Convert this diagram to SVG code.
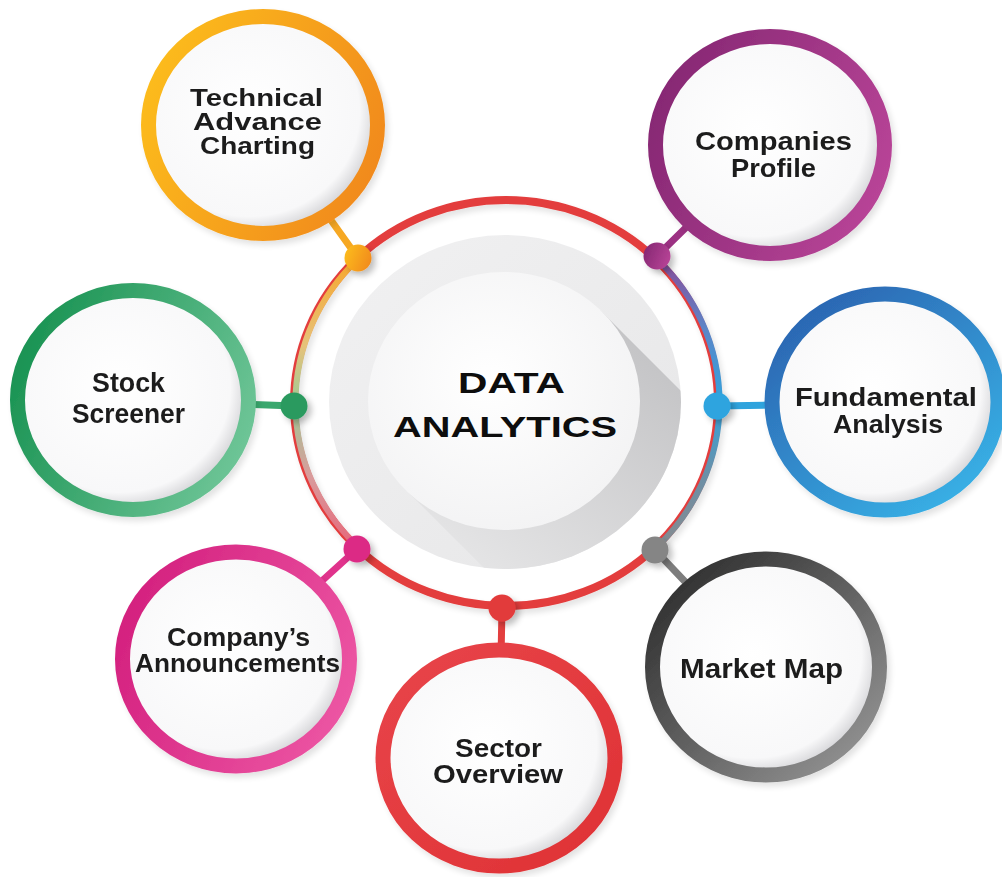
<svg xmlns="http://www.w3.org/2000/svg" width="1002" height="877" viewBox="0 0 1002 877">
<style>
.lbl{font-family:"Liberation Sans",Arial,sans-serif;font-weight:700;font-size:28px;fill:#1e1e1e;text-anchor:middle}
.f24{font-size:23.5px}
.f25{font-size:25.5px}
.ctr{font-family:"Liberation Sans",Arial,sans-serif;font-weight:700;font-size:30px;fill:#0d0d0d;text-anchor:middle}
.sat{fill:url(#satFill)}
.ring{fill:none;stroke-width:15}
.conn{stroke-width:7;stroke-linecap:round;fill:none}
</style>
<defs>
<filter id="sh" x="-30%" y="-30%" width="170%" height="170%">
<feGaussianBlur in="SourceAlpha" stdDeviation="3"/>
<feOffset dx="4" dy="4" result="o"/>
<feComponentTransfer><feFuncA type="linear" slope="0.25"/></feComponentTransfer>
<feMerge><feMergeNode/><feMergeNode in="SourceGraphic"/></feMerge>
</filter>
<filter id="shs" x="-10%" y="-10%" width="125%" height="125%">
<feGaussianBlur in="SourceAlpha" stdDeviation="3"/>
<feOffset dx="3" dy="4"/>
<feComponentTransfer><feFuncA type="linear" slope="0.12"/></feComponentTransfer>
<feMerge><feMergeNode/><feMergeNode in="SourceGraphic"/></feMerge>
</filter>
<radialGradient id="satFill" cx="0.44" cy="0.44" r="0.56">
<stop offset="0" stop-color="#ffffff"/>
<stop offset="0.86" stop-color="#f8f8f9"/>
<stop offset="1" stop-color="#d5d5d8"/>
</radialGradient>
<radialGradient id="whiteFill" cx="0.45" cy="0.42" r="0.6">
<stop offset="0" stop-color="#ffffff"/>
<stop offset="1" stop-color="#f3f3f4"/>
</radialGradient>
<linearGradient id="discFill" x1="0" y1="0" x2="1" y2="1">
<stop offset="0" stop-color="#f1f1f2"/>
<stop offset="1" stop-color="#e6e6e7"/>
</linearGradient>
<linearGradient id="longSh" gradientUnits="userSpaceOnUse" x1="640" y1="330" x2="470" y2="560">
<stop offset="0" stop-color="#c3c3c5"/>
<stop offset="1" stop-color="#e4e4e5"/>
</linearGradient>
<clipPath id="discClip"><ellipse cx="505" cy="402" rx="176" ry="167"/></clipPath>
<linearGradient id="gOrange" x1="0" y1="0.3" x2="1" y2="0.7">
<stop offset="0" stop-color="#fcbb1a"/><stop offset="1" stop-color="#f18a1f"/>
</linearGradient>
<linearGradient id="gPurple" x1="0" y1="0.3" x2="1" y2="0.7">
<stop offset="0" stop-color="#872874"/><stop offset="1" stop-color="#b84497"/>
</linearGradient>
<linearGradient id="gBlue" x1="0" y1="0" x2="0.8" y2="1">
<stop offset="0" stop-color="#2a5dac"/><stop offset="1" stop-color="#38b1e6"/>
</linearGradient>
<linearGradient id="gGray" x1="0" y1="0" x2="1" y2="1">
<stop offset="0" stop-color="#262626"/><stop offset="1" stop-color="#9b9b9b"/>
</linearGradient>
<linearGradient id="gRed" x1="0" y1="0" x2="1" y2="1">
<stop offset="0" stop-color="#e8454a"/><stop offset="1" stop-color="#df3134"/>
</linearGradient>
<linearGradient id="gPink" x1="0" y1="0.3" x2="1" y2="0.7">
<stop offset="0" stop-color="#d4217f"/><stop offset="1" stop-color="#ec55a3"/>
</linearGradient>
<linearGradient id="gGreen" x1="0" y1="0.3" x2="1" y2="0.7">
<stop offset="0" stop-color="#1a9353"/><stop offset="1" stop-color="#6ec597"/>
</linearGradient>
<linearGradient id="arcL" gradientUnits="userSpaceOnUse" x1="0" y1="258" x2="0" y2="550">
<stop offset="0" stop-color="#f6a62c"/>
<stop offset="0.3" stop-color="#e6c27a"/>
<stop offset="0.5" stop-color="#9fca95"/>
<stop offset="0.75" stop-color="#d99a9b"/>
<stop offset="1" stop-color="#e66579"/>
</linearGradient>
<linearGradient id="arcR" gradientUnits="userSpaceOnUse" x1="0" y1="256" x2="0" y2="550">
<stop offset="0" stop-color="#8a4a98"/>
<stop offset="0.25" stop-color="#5b86c8"/>
<stop offset="0.5" stop-color="#31a3dd"/>
<stop offset="0.75" stop-color="#6c8fa6"/>
<stop offset="1" stop-color="#868a8e"/>
</linearGradient>
</defs>

<g id="center">
<ellipse cx="505" cy="402" rx="176" ry="167" fill="url(#discFill)"/>
<polygon clip-path="url(#discClip)" points="600,310 900,610 708,792 408,492" fill="url(#longSh)"/>
<ellipse cx="504" cy="401" rx="136" ry="129" fill="url(#whiteFill)"/>
<ellipse cx="506" cy="403" rx="212" ry="203" fill="none" stroke="#e33d3d" stroke-width="8" filter="url(#shs)"/>
<path d="M356,259.5 A212,203 0 0,0 356,546.5" fill="none" stroke="url(#arcL)" stroke-width="6" transform="translate(1.5,0)"/>
<path d="M656,259.5 A212,203 0 0,1 656,546.5" fill="none" stroke="url(#arcR)" stroke-width="6" transform="translate(1.5,0)"/>
<text class="ctr" x="511.5" y="393" textLength="107" lengthAdjust="spacingAndGlyphs">DATA</text>
<text class="ctr" x="505" y="437" textLength="224" lengthAdjust="spacingAndGlyphs">ANALYTICS</text>
</g>

<g id="connectors">
<line class="conn" x1="358" y1="258" x2="263" y2="125" stroke="#f6a823"/>
<line class="conn" x1="657" y1="256" x2="770" y2="145" stroke="#9c3183"/>
<line class="conn" x1="717" y1="406" x2="885" y2="403" stroke="#2fa3dd"/>
<line class="conn" x1="655" y1="550" x2="766" y2="667" stroke="#7d7d7d"/>
<line class="conn" x1="502" y1="608" x2="499" y2="758" stroke="#e33e3e"/>
<line class="conn" x1="357" y1="549" x2="236" y2="659" stroke="#e0338c"/>
<line class="conn" x1="294" y1="406" x2="133" y2="400" stroke="#3aa86e"/>
<g filter="url(#sh)">
<circle cx="358" cy="258" r="13.5" fill="url(#gOrange)"/>
<circle cx="657" cy="256" r="13.5" fill="url(#gPurple)"/>
<circle cx="717" cy="406" r="13.5" fill="#2da4df"/>
<circle cx="655" cy="550" r="13.5" fill="#858585"/>
<circle cx="502" cy="608" r="13.5" fill="#e23b3b"/>
<circle cx="357" cy="549" r="13.5" fill="#dc2a85"/>
<circle cx="294" cy="406" r="13.5" fill="#2a9a5e"/>
</g>
</g>

<g id="node-technical" filter="url(#shs)">
<ellipse class="sat" cx="263" cy="125" rx="114.5" ry="108.5"/>
<ellipse class="ring" cx="263" cy="125" rx="114.5" ry="108.5" stroke="url(#gOrange)"/>
<text class="lbl f24" x="256.5" y="106" textLength="133" lengthAdjust="spacingAndGlyphs">Technical</text>
<text class="lbl f24" x="257.5" y="130" textLength="129" lengthAdjust="spacingAndGlyphs">Advance</text>
<text class="lbl f24" x="257.5" y="154" textLength="115" lengthAdjust="spacingAndGlyphs">Charting</text>
</g>

<g id="node-companies" filter="url(#shs)">
<ellipse class="sat" cx="770" cy="145" rx="114.5" ry="108.5"/>
<ellipse class="ring" cx="770" cy="145" rx="114.5" ry="108.5" stroke="url(#gPurple)"/>
<text class="lbl f25" x="773.5" y="150" textLength="157" lengthAdjust="spacingAndGlyphs">Companies</text>
<text class="lbl f25" x="773.5" y="177" textLength="85" lengthAdjust="spacingAndGlyphs">Profile</text>
</g>

<g id="node-fundamental" filter="url(#shs)">
<ellipse class="sat" cx="885" cy="402" rx="113" ry="108"/>
<ellipse class="ring" cx="885" cy="402" rx="113" ry="108" stroke="url(#gBlue)"/>
<text class="lbl f25" x="886" y="406" textLength="182" lengthAdjust="spacingAndGlyphs">Fundamental</text>
<text class="lbl f25" x="888" y="433" textLength="110" lengthAdjust="spacingAndGlyphs">Analysis</text>
</g>

<g id="node-market" filter="url(#shs)">
<ellipse class="sat" cx="766" cy="667" rx="113.5" ry="108"/>
<ellipse class="ring" cx="766" cy="667" rx="113.5" ry="108" stroke="url(#gGray)"/>
<text class="lbl" x="761.5" y="678" textLength="163" lengthAdjust="spacingAndGlyphs">Market Map</text>
</g>

<g id="node-sector" filter="url(#shs)">
<ellipse class="sat" cx="499" cy="758" rx="116" ry="108"/>
<ellipse class="ring" cx="499" cy="758" rx="116" ry="108" stroke="url(#gRed)"/>
<text class="lbl f25" x="498.5" y="757" textLength="87" lengthAdjust="spacingAndGlyphs">Sector</text>
<text class="lbl f25" x="498" y="783" textLength="130" lengthAdjust="spacingAndGlyphs">Overview</text>
</g>

<g id="node-announcements" filter="url(#shs)">
<ellipse class="sat" cx="236" cy="659" rx="113.5" ry="107"/>
<ellipse class="ring" cx="236" cy="659" rx="113.5" ry="107" stroke="url(#gPink)"/>
<text class="lbl f25" x="238.5" y="646" textLength="143" lengthAdjust="spacingAndGlyphs">Company’s</text>
<text class="lbl f25" x="237.5" y="672" textLength="205" lengthAdjust="spacingAndGlyphs">Announcements</text>
</g>

<g id="node-stock" filter="url(#shs)">
<ellipse class="sat" cx="133" cy="400" rx="115.5" ry="109.5"/>
<ellipse class="ring" cx="133" cy="400" rx="115.5" ry="109.5" stroke="url(#gGreen)"/>
<text class="lbl" x="128.5" y="392" textLength="73" lengthAdjust="spacingAndGlyphs">Stock</text>
<text class="lbl" x="128.5" y="423" textLength="113" lengthAdjust="spacingAndGlyphs">Screener</text>
</g>
</svg>
